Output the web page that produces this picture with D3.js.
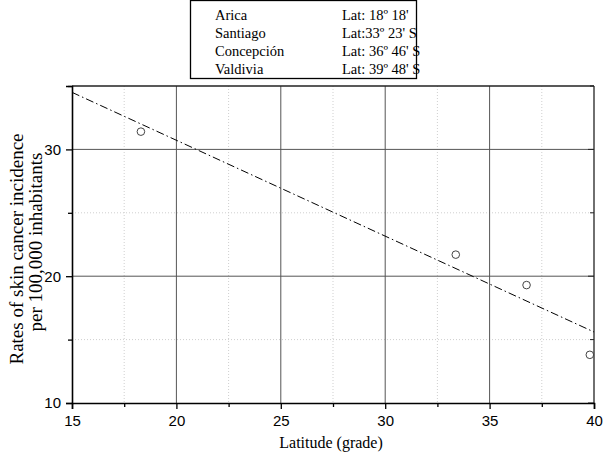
<!DOCTYPE html>
<html>
<head>
<meta charset="utf-8">
<script src="https://cdn.jsdelivr.net/npm/d3@7"></script>
<style>
  body { margin: 0; background: #fff; }
  svg { display: block; }
</style>
</head>
<body>
<div id="vizcont"></div>
<script>
// city data
var cities = ["Arica", "Santiago", "Concepción", "Valdivia"];
var latLabels = ["Lat: 18º 18'", "Lat:33º 23' S", "Lat: 36º 46' S", "Lat: 39º 48' S"];
var latitude = [18.3, 33.38, 36.77, 39.8];
var rates = [31.4, 21.7, 19.3, 13.8];

// fitted line end points
var fitX = [15, 40];
var fitY = [34.5, 15.6];

var xMajor = [15, 20, 25, 30, 35, 40];
var xMinor = [17.5, 22.5, 27.5, 32.5, 37.5];
var yMajor = [10, 20, 30];
var yMinor = [15, 25, 35];

var margin = {top: 86, right: 11, bottom: 53, left: 72};
var width = 605 - margin.left - margin.right;
var height = 456 - margin.top - margin.bottom;

var svg = d3.select("#vizcont")
            .append("svg")
            .attr("width", 605)
            .attr("height", 456);
var g = svg.append("g")
           .attr("transform", "translate(" + margin.left + "," + margin.top + ")");

var x = d3.scaleLinear().domain([15, 40]).range([0, width]);
var y = d3.scaleLinear().domain([10, 35]).range([height, 0]);

// minor grid (dotted)
g.selectAll(".vminor").data(xMinor).enter().append("line")
 .attr("x1", function(d) { return x(d); }).attr("x2", function(d) { return x(d); })
 .attr("y1", 0).attr("y2", height)
 .attr("stroke", "#cfcfcf").style("stroke-width", "1px").style("stroke-dasharray", "1,2");
g.selectAll(".hminor").data(yMinor.filter(function(d) { return d < 35; })).enter().append("line")
 .attr("y1", function(d) { return y(d); }).attr("y2", function(d) { return y(d); })
 .attr("x1", 0).attr("x2", width)
 .attr("stroke", "#cfcfcf").style("stroke-width", "1px").style("stroke-dasharray", "1,2");

// major grid
g.selectAll(".vmajor").data(xMajor.slice(1, 5)).enter().append("line")
 .attr("x1", function(d) { return x(d); }).attr("x2", function(d) { return x(d); })
 .attr("y1", 0).attr("y2", height)
 .attr("stroke", "#555").style("stroke-width", "1px");
g.selectAll(".hmajor").data(yMajor.slice(1)).enter().append("line")
 .attr("y1", function(d) { return y(d); }).attr("y2", function(d) { return y(d); })
 .attr("x1", 0).attr("x2", width)
 .attr("stroke", "#555").style("stroke-width", "1px");

// frame top / right
g.append("line").attr("x1", 0).attr("x2", width).attr("y1", 0).attr("y2", 0)
 .attr("stroke", "#222").style("stroke-width", "1.3px");
g.append("line").attr("x1", width).attr("x2", width).attr("y1", 0).attr("y2", height)
 .attr("stroke", "#222").style("stroke-width", "1.3px");
// right inward ticks
g.selectAll(".rt").data(yMajor.concat(yMinor)).enter().append("line")
 .attr("x1", width).attr("x2", function(d) { return width - (yMajor.indexOf(d) >= 0 ? 6 : 4); })
 .attr("y1", function(d) { return y(d); }).attr("y2", function(d) { return y(d); })
 .attr("stroke", "#222");

// bottom axis
g.append("g")
 .attr("transform", "translate(0," + height + ")")
 .call(d3.axisBottom(x).tickValues(xMajor).tickSize(6).tickPadding(6).tickFormat(d3.format("d")));
g.append("g")
 .attr("transform", "translate(0," + height + ")")
 .call(d3.axisBottom(x).tickValues(xMinor).tickSize(4).tickFormat(""))
 .select(".domain").remove();

// left axis
g.append("g")
 .call(d3.axisLeft(y).tickValues(yMajor).tickSize(6).tickPadding(5).tickFormat(d3.format("d")));
g.append("g")
 .call(d3.axisLeft(y).tickValues(yMinor).tickSize(4).tickFormat(""))
 .select(".domain").remove();

g.selectAll(".domain").attr("stroke", "#000").style("stroke-width", "1.6px");
g.selectAll(".tick line").attr("stroke", "#000").style("stroke-width", "1.3px");
g.selectAll(".tick text")
 .style("font", "15px 'Liberation Sans', Arial, sans-serif")
 .attr("fill", "#000");

// fitted line
var line = d3.line()
 .x(function(d) { return x(d[0]); })
 .y(function(d) { return y(d[1]); });
g.append("path")
 .datum(fitX.map(function(d, i) { return [d, fitY[i]]; }))
 .attr("d", line)
 .attr("fill", "none")
 .attr("stroke", "#000")
 .style("stroke-width", "1px")
 .style("stroke-dasharray", "8,3,1.5,3");

// points
g.selectAll(".pt").data(latitude).enter().append("circle")
 .attr("cx", function(d) { return x(d); })
 .attr("cy", function(d, i) { return y(rates[i]); })
 .attr("r", 3.8)
 .attr("fill", "none")
 .attr("stroke", "#444")
 .style("stroke-width", "1px");

// axis titles
svg.append("text")
 .attr("x", 331)
 .attr("y", 448)
 .attr("text-anchor", "middle")
 .style("font", "16px 'Liberation Serif', 'Times New Roman', serif")
 .text("Latitude (grade)");

svg.append("text")
 .attr("transform", "translate(23,249) rotate(-90)")
 .attr("text-anchor", "middle")
 .style("font", "19px 'Liberation Serif', 'Times New Roman', serif")
 .text("Rates of skin cancer incidence");
svg.append("text")
 .attr("transform", "translate(42,242) rotate(-90)")
 .attr("text-anchor", "middle")
 .style("font", "19px 'Liberation Serif', 'Times New Roman', serif")
 .text("per 100,000 inhabitants");

// legend box
var leg = svg.append("g");
leg.append("rect")
 .attr("x", 190.5).attr("y", 0.5).attr("width", 226).attr("height", 78)
 .attr("fill", "#fff").attr("stroke", "#000").style("stroke-width", "1.3px");
cities.forEach(function(c, i) {
  leg.append("text").attr("x", 215).attr("y", 20 + i * 18)
   .style("font", "14.5px 'Liberation Serif', 'Times New Roman', serif").text(c);
  leg.append("text").attr("x", 342).attr("y", 20 + i * 18)
   .style("font", "14.5px 'Liberation Serif', 'Times New Roman', serif").text(latLabels[i]);
});
</script>
</body>
</html>
